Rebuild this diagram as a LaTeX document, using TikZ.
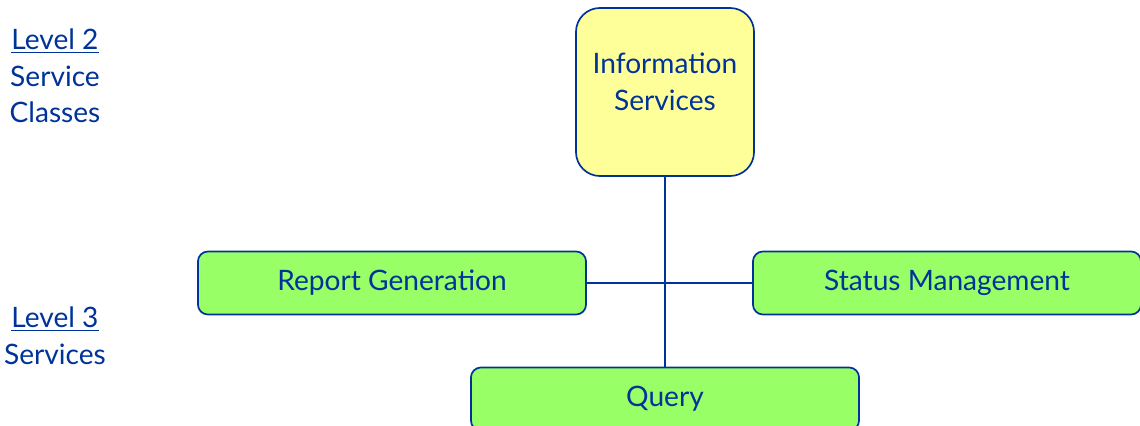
\documentclass[tikz,border=0pt]{standalone}
\usepackage{fontspec}
\setmainfont{Lato}
\definecolor{lettercolor}{rgb}{0, 0.2, 0.6}
\definecolor{classfill}{rgb}{1, 1, 0.6}
\definecolor{servicefill}{rgb}{0.6, 1, 0.4}
\usetikzlibrary{positioning}
\tikzset{
	classbox/.style={
		rectangle,
		rounded corners=0.6cm,
		line width=1.2pt,
		draw=lettercolor,
		fill=classfill,
		minimum width=4.45cm,
		minimum height=4.2cm
	},
	classtext/.style={
		text=lettercolor,
		align=center,
		font=\fontsize{20}{26}\selectfont
	},
	servicebox/.style={
		rectangle,
		rounded corners=0.25cm,
		line width=1.2pt,
		draw=lettercolor,
		fill=servicefill,
		text=lettercolor,
		minimum width=9.7cm,
		minimum height=1.575cm,
		font=\fontsize{20}{24}\selectfont
	},
	levellabel/.style={
		text=lettercolor,
		align=center,
		font=\fontsize{20}{26}\selectfont
	},
	link/.style={
		draw=lettercolor,
		line width=1.2pt
	},
}
\begin{document}
\begin{tikzpicture}[x=0.025cm,y=-0.025cm]
	\useasboundingbox (0,0) rectangle (1140,426);
	\node [classbox] (info) at (665,92)
		[label={[classtext,yshift=0.25cm]center:Information\\Services}] {};
	\node [servicebox] (report) at (392,283) {Report Generation};
	\node [servicebox] (status) at (947,283) {Status Management};
	\node [servicebox] (query) at (665,399) {Query};
	\node [levellabel] (level2) at (55,76) {\underline{Level 2}\\Service\\Classes};
	\node [levellabel] (level3) at (55,336) {\underline{Level 3}\\Services};

	\path[link]
	(info) -- (query)
	(report) -- (status)
	;
\end{tikzpicture}
\end{document}
